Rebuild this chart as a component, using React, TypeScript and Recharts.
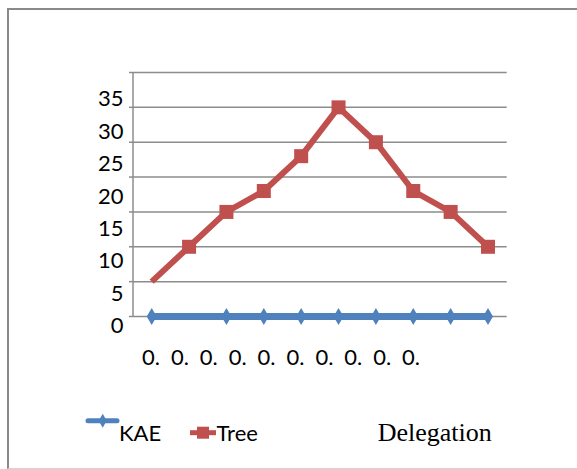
import React from "react";
import { LineChart, Line, XAxis, YAxis, CartesianGrid } from "recharts";

// values
const categories = ["0.", "0.", "0.", "0.", "0.", "0.", "0.", "0.", "0.", "0."];
const kaeValues = [0, 0, 0, 0, 0, 0, 0, 0, 0, 0];
const treeValues = [5, 10, 15, 18, 23, 30, 25, 18, 15, 10];
const yTicks = [0, 5, 10, 15, 20, 25, 30, 35];

const data = categories.map((c, i) => ({
  cat: c,
  KAE: kaeValues[i],
  Tree: treeValues[i],
}));

const BLUE = "#4F81BD";
const RED = "#C0504D";
const GRID = "#8c8c8c";
const FONT = "Lato, 'Open Sans', sans-serif";

// the labels in the original sit a bit off the gridlines
const YTick = (props: any) => {
  const v = props.payload.value;
  const cy = 325 - v * 6.47;
  return (
    <text x={123.5} y={cy + 7.9} textAnchor="end" fontFamily={FONT} fontSize={22} fill="#000">
      {v}
    </text>
  );
};

const XTick = (props: any) => {
  const i = props.index;
  return (
    <text x={151 + i * 28.9} y={357 + 7.9} textAnchor="middle" fontFamily={FONT} fontSize={22} fill="#000">
      {props.payload.value}
    </text>
  );
};

const diamondDot = (props: any) => {
  const { cx, cy, index } = props;
  if (index === 1) return <g key={`d-${index}`} />;
  return (
    <path
      key={`d-${index}`}
      d={`M${cx},${cy - 8.5} L${cx + 5},${cy} L${cx},${cy + 8.5} L${cx - 5},${cy} Z`}
      fill={BLUE}
    />
  );
};

const squareDot = (props: any) => {
  const { cx, cy, index } = props;
  if (index === 0) return <g key={`s-${index}`} />;
  return <rect key={`s-${index}`} x={cx - 7} y={cy - 7} width={14} height={14} fill={RED} />;
};

export default function App() {
  return (
    <div style={{ position: "absolute", left: 0, top: 0, width: 577, height: 469, background: "#fff", overflow: "hidden" }}>
      <div
        style={{
          position: "absolute",
          left: 7,
          top: 8,
          width: 600,
          height: 458,
          borderLeft: "2px solid #8a8a8a",
          borderTop: "2px solid #8a8a8a",
          borderBottom: "1px solid #d4d4d4",
        }}
      />
      <div style={{ position: "absolute", left: 0, top: 0 }}>
        <LineChart width={577} height={469} data={data} margin={{ top: 72.5, right: 70.3, bottom: 122.5, left: 0 }}>
          <CartesianGrid vertical={false} stroke={GRID} strokeWidth={1.5} />
          <XAxis
            dataKey="cat"
            height={30}
            padding={{ left: 18.7, right: 18.7 }}
            tickLine={false}
            axisLine={false}
            tick={<XTick />}
            interval={0}
          />
          <YAxis
            width={133}
            domain={[0, 35]}
            ticks={yTicks}
            interval={0}
            tickSize={4}
            tickLine={{ stroke: GRID, strokeWidth: 1.5 }}
            axisLine={{ stroke: GRID, strokeWidth: 1.5 }}
            tick={<YTick />}
          />
          <Line dataKey="KAE" stroke={BLUE} strokeWidth={7} dot={diamondDot} isAnimationActive={false} />
          <Line dataKey="Tree" stroke={RED} strokeWidth={6} dot={squareDot} isAnimationActive={false} />
        </LineChart>
      </div>
      <svg width={577} height={469} style={{ position: "absolute", left: 0, top: 0, pointerEvents: "none" }}>
        <line x1={88} y1={420.7} x2={117} y2={420.7} stroke={BLUE} strokeWidth={5} strokeLinecap="round" />
        <path d="M102.7,413.7 L106.7,420.7 L102.7,427.7 L98.7,420.7 Z" fill={BLUE} />
        <text x={119} y={441} fontFamily={FONT} fontSize={22} fill="#000">KAE</text>
        <line x1={190} y1={432.7} x2={216} y2={432.7} stroke={RED} strokeWidth={5} />
        <rect x={197} y={426.7} width={12} height={12} fill={RED} />
        <text x={216.5} y={441} fontFamily={FONT} fontSize={22} fill="#000">Tree</text>
        <text x={377.7} y={441} fontFamily="'Liberation Serif', 'Times New Roman', serif" fontSize={26} fill="#000">
          Delegation
        </text>
      </svg>
    </div>
  );
}
